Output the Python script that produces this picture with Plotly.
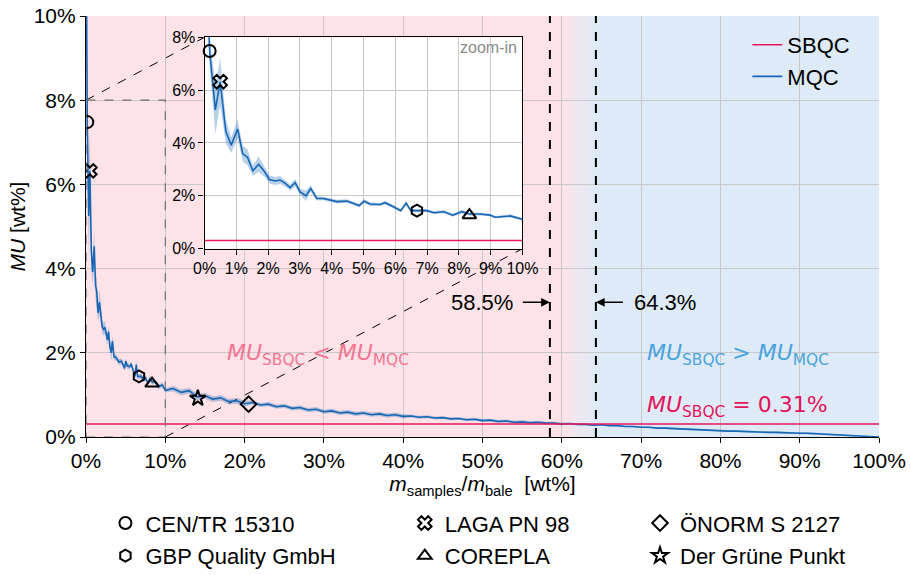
import plotly.graph_objects as go

# ---------------- data ----------------
X_ZOOM = [0.05, 0.16, 0.34, 0.49, 0.67, 0.84, 1.04, 1.20, 1.35, 1.52, 1.70, 1.89, 2.04, 2.22, 2.38,
          2.54, 2.69, 2.85, 3.00, 3.19, 3.34, 3.53, 3.74, 3.95, 4.16, 4.48, 4.69, 4.86, 5.02, 5.20,
          5.52, 5.68, 5.94, 6.17, 6.34, 6.49, 6.68, 6.99, 7.22, 7.52, 7.81, 8.09, 8.33, 8.67, 8.98,
          9.14, 9.61, 10.0]
MU_ZOOM = [11.0, 7.48, 5.25, 6.32, 4.43, 3.92, 4.53, 3.60, 3.46, 2.95, 3.20, 2.91, 2.62, 2.56, 2.60,
           2.47, 2.31, 2.50, 2.16, 2.00, 2.28, 1.90, 1.90, 1.84, 1.78, 1.80, 1.72, 1.63, 1.80, 1.69,
           1.67, 1.74, 1.59, 1.44, 1.72, 1.44, 1.44, 1.44, 1.36, 1.40, 1.27, 1.40, 1.31, 1.31, 1.27,
           1.19, 1.24, 1.11]
BAND_ZOOM = [0.6, 0.6, 0.9, 0.9, 0.45, 0.3, 0.35, 0.3, 0.3, 0.2, 0.3, 0.2, 0.15, 0.15, 0.15,
             0.12, 0.12, 0.15, 0.12, 0.2, 0.12, 0.08, 0.07, 0.07, 0.07, 0.07, 0.07, 0.07, 0.08, 0.07,
             0.06, 0.06, 0.06, 0.06, 0.08, 0.06, 0.06, 0.06, 0.06, 0.06, 0.06, 0.06, 0.06, 0.05, 0.05,
             0.05, 0.06, 0.05]

X_TAIL = [11, 12, 13, 14, 15, 16, 17, 18, 19, 20, 21, 22, 23, 24, 25, 26, 27, 28, 29, 30,
          31, 32, 33, 34, 35, 36, 37, 38, 39, 40, 41, 42, 43, 44, 45, 46, 47, 48, 49, 50,
          51, 52, 53, 54, 55, 56, 57, 58, 59, 60, 61, 62, 63, 64, 65, 66, 67, 68, 69, 70,
          71, 72, 73, 74, 75, 76, 77, 78, 79, 80, 81, 82, 83, 84, 85, 86, 87, 88, 89, 90,
          91, 92, 93, 94, 95, 96, 97, 98, 99, 100]
MU_TAIL = [1.15, 1.06, 1.10, 0.95, 0.98, 0.90, 0.93, 0.84, 0.86, 0.79,
           0.82, 0.76, 0.78, 0.72, 0.74, 0.68, 0.70, 0.64, 0.66, 0.60,
           0.62, 0.57, 0.59, 0.55, 0.57, 0.53, 0.55, 0.51, 0.53, 0.49,
           0.50, 0.47, 0.48, 0.45, 0.46, 0.43, 0.44, 0.41, 0.42, 0.39,
           0.40, 0.37, 0.38, 0.35, 0.36, 0.34, 0.35, 0.33, 0.33, 0.31,
           0.32, 0.30, 0.30, 0.28, 0.29, 0.27, 0.27, 0.25, 0.25, 0.23,
           0.23, 0.21, 0.21, 0.20, 0.19, 0.18, 0.18, 0.16, 0.16, 0.15,
           0.14, 0.14, 0.13, 0.12, 0.12, 0.11, 0.11, 0.10, 0.10, 0.09,
           0.09, 0.08, 0.07, 0.06, 0.05, 0.04, 0.03, 0.02, 0.01, 0.00]
BAND_TAIL = [0.07, 0.07, 0.07, 0.07, 0.07, 0.07, 0.07, 0.07, 0.07, 0.07,
             0.05, 0.05, 0.05, 0.05, 0.05, 0.05, 0.05, 0.05, 0.05, 0.05,
             0.05, 0.05, 0.05, 0.05, 0.05, 0.05, 0.05, 0.05, 0.05, 0.05,
             0.035, 0.035, 0.035, 0.035, 0.035, 0.035, 0.035, 0.035, 0.035, 0.035,
             0.035, 0.035, 0.035, 0.035, 0.035, 0.035, 0.035, 0.035, 0.035, 0.035,
             0.02, 0.02, 0.02, 0.02, 0.02, 0.02, 0.02, 0.02, 0.02, 0.02,
             0.02, 0.02, 0.02, 0.02, 0.02, 0.02, 0.02, 0.02, 0.02, 0.02,
             0.02, 0.02, 0.02, 0.02, 0.02, 0.02, 0.02, 0.02, 0.02, 0.02,
             0.02, 0.02, 0.02, 0.02, 0.02, 0.02, 0.02, 0.02, 0.02, 0.01]

SBQC_VALUE = 0.31
CROSS_LOW = 58.5
CROSS_HIGH = 64.3

MARKER_NAMES = ["CEN/TR 15310", "LAGA PN 98", "ÖNORM S 2127",
                "GBP Quality GmbH", "COREPLA", "Der Grüne Punkt"]
MARKER_X = [0.16, 0.49, 20.5, 6.68, 8.33, 14.1]
MARKER_Y = [7.48, 6.32, 0.78, 1.44, 1.27, 0.92]
MARKER_SYMBOLS = ["circle-open", "x-open", "diamond-open",
                  "hexagon-open", "triangle-up-open", "star-open"]
MARKER_LEGEND = ["legend3", "legend4", "legend5", "legend3", "legend4", "legend5"]

X_TICKS = [0, 10, 20, 30, 40, 50, 60, 70, 80, 90, 100]
Y_TICKS = [0, 2, 4, 6, 8, 10]
X2_TICKS = [0, 1, 2, 3, 4, 5, 6, 7, 8, 9, 10]
Y2_TICKS = [0, 2, 4, 6, 8]
ZOOM_X_RANGE = [0, 10]
ZOOM_Y_RANGE = [0, 8]

# ---------------- styling ----------------
FONT = "Liberation Sans, Arial, sans-serif"
MATH = "DejaVu Sans, sans-serif"
MQC_COLOR = "#1767b5"
BAND_COLOR = "rgba(23,103,181,0.30)"
SBQC_COLOR = "#e8175d"
PINK = (253, 227, 232)
BLUE = (222, 235, 247)
GRID = "#c8c8c8"
INSET_X = [0.1495, 0.5504]
INSET_Y = [0.4473, 0.9494]


def pct(vals):
    return ["%g%%" % v for v in vals]


X_ALL = X_ZOOM + X_TAIL
MU_ALL = MU_ZOOM + MU_TAIL
BAND_ALL = BAND_ZOOM + BAND_TAIL
upper = [m + b for m, b in zip(MU_ALL, BAND_ALL)]
lower = [max(m - b, 0) for m, b in zip(MU_ALL, BAND_ALL)]
up_z = [m + b for m, b in zip(MU_ZOOM, BAND_ZOOM)]
lo_z = [max(m - b, 0) for m, b in zip(MU_ZOOM, BAND_ZOOM)]

fig = go.Figure()

# main panel
fig.add_trace(go.Scatter(x=X_ALL + X_ALL[::-1], y=upper + lower[::-1], fill="toself",
                         fillcolor=BAND_COLOR, line=dict(width=0), showlegend=False,
                         hoverinfo="skip", xaxis="x", yaxis="y"))
fig.add_trace(go.Scatter(x=X_ALL, y=MU_ALL, mode="lines", name="MQC",
                         line=dict(color=MQC_COLOR, width=1.6), legend="legend2",
                         legendrank=2, xaxis="x", yaxis="y"))
fig.add_trace(go.Scatter(x=[0, 100], y=[SBQC_VALUE, SBQC_VALUE], mode="lines", name="SBQC",
                         line=dict(color=SBQC_COLOR, width=1.6), legend="legend2",
                         legendrank=1, xaxis="x", yaxis="y"))
for i, name in enumerate(MARKER_NAMES):
    fig.add_trace(go.Scatter(x=[MARKER_X[i]], y=[MARKER_Y[i]], mode="markers", name=name,
                             legendgroup="g%d" % i,
                             marker=dict(symbol=MARKER_SYMBOLS[i], size=12, color="black",
                                         line=dict(width=2, color="black")),
                             legend=MARKER_LEGEND[i], xaxis="x", yaxis="y"))

# inset panel
fig.add_trace(go.Scatter(x=X_ZOOM + X_ZOOM[::-1], y=up_z + lo_z[::-1], fill="toself",
                         fillcolor=BAND_COLOR, line=dict(width=0), showlegend=False,
                         hoverinfo="skip", xaxis="x2", yaxis="y2"))
fig.add_trace(go.Scatter(x=X_ZOOM, y=MU_ZOOM, mode="lines", showlegend=False,
                         line=dict(color=MQC_COLOR, width=1.6), xaxis="x2", yaxis="y2"))
fig.add_trace(go.Scatter(x=ZOOM_X_RANGE, y=[SBQC_VALUE, SBQC_VALUE], mode="lines",
                         showlegend=False, line=dict(color=SBQC_COLOR, width=1.6),
                         xaxis="x2", yaxis="y2"))
for i, name in enumerate(MARKER_NAMES):
    if MARKER_X[i] <= ZOOM_X_RANGE[1]:
        fig.add_trace(go.Scatter(x=[MARKER_X[i]], y=[MARKER_Y[i]], mode="markers",
                                 showlegend=False, cliponaxis=False,
                                 marker=dict(symbol=MARKER_SYMBOLS[i], size=12, color="black",
                                             line=dict(width=2, color="black")),
                                 xaxis="x2", yaxis="y2"))

# ---------------- shapes ----------------
shapes = []
shapes.append(dict(type="rect", xref="x", yref="paper", x0=CROSS_HIGH, x1=100, y0=0, y1=1,
                   fillcolor="rgb(%d,%d,%d)" % BLUE, line=dict(width=0), layer="below"))
n = 12
g0 = 60.0
for k in range(n):
    t = (k + 0.5) / n
    c = tuple(int(round(PINK[j] + (BLUE[j] - PINK[j]) * t)) for j in range(3))
    shapes.append(dict(type="rect", xref="x", yref="paper",
                       x0=g0 + (CROSS_HIGH - g0) * k / n,
                       x1=g0 + (CROSS_HIGH - g0) * (k + 1) / n + 0.02,
                       y0=0, y1=1, fillcolor="rgb(%d,%d,%d)" % c, line=dict(width=0), layer="below"))
shapes.append(dict(type="line", xref="paper", yref="paper",
                   x0=ZOOM_X_RANGE[0] / 100, y0=ZOOM_Y_RANGE[1] / 10, x1=INSET_X[0], y1=INSET_Y[1],
                   line=dict(color="black", width=1, dash="dash"), layer="below"))
shapes.append(dict(type="line", xref="paper", yref="paper",
                   x0=ZOOM_X_RANGE[1] / 100, y0=ZOOM_Y_RANGE[0] / 10, x1=INSET_X[1], y1=INSET_Y[0],
                   line=dict(color="black", width=1, dash="dash"), layer="below"))
shapes.append(dict(type="rect", xref="x", yref="y", x0=ZOOM_X_RANGE[0], x1=ZOOM_X_RANGE[1],
                   y0=ZOOM_Y_RANGE[0], y1=ZOOM_Y_RANGE[1],
                   line=dict(color="#6e6e6e", width=1.2, dash="dash"), layer="above"))
shapes.append(dict(type="rect", xref="x2", yref="y2", x0=ZOOM_X_RANGE[0], x1=ZOOM_X_RANGE[1],
                   y0=ZOOM_Y_RANGE[0], y1=ZOOM_Y_RANGE[1], fillcolor="white",
                   line=dict(width=0), layer="below"))
for xv in (CROSS_LOW, CROSS_HIGH):
    shapes.append(dict(type="line", xref="x", yref="paper", x0=xv, x1=xv, y0=0, y1=1,
                       line=dict(color="black", width=2, dash="dash"), layer="above"))

# ---------------- annotations ----------------
ann = []
ARROW_Y = 3.2
ann.append(dict(x=CROSS_LOW, y=ARROW_Y, ax=54.9, ay=ARROW_Y, axref="x", ayref="y", xref="x", yref="y",
                text="", showarrow=True, arrowhead=2, arrowsize=1.1, arrowwidth=1.6,
                arrowcolor="black", standoff=0))
ann.append(dict(x=54.1, y=ARROW_Y, xref="x", yref="y", text="%.1f%%" % CROSS_LOW, showarrow=False,
                xanchor="right", font=dict(size=22, color="black", family=FONT)))
ann.append(dict(x=CROSS_HIGH, y=ARROW_Y, ax=67.9, ay=ARROW_Y, axref="x", ayref="y", xref="x", yref="y",
                text="", showarrow=True, arrowhead=2, arrowsize=1.1, arrowwidth=1.6,
                arrowcolor="black", standoff=0))
ann.append(dict(x=68.8, y=ARROW_Y, xref="x", yref="y", text="%.1f%%" % CROSS_HIGH, showarrow=False,
                xanchor="left", font=dict(size=22, color="black", family=FONT)))
ann.append(dict(x=29.3, y=1.95, xref="x", yref="y",
                text="<i>MU</i><sub>SBQC</sub> &lt; <i>MU</i><sub>MQC</sub>", showarrow=False,
                font=dict(size=22, color="#f17592", family=MATH)))
ann.append(dict(x=82.2, y=1.95, xref="x", yref="y",
                text="<i>MU</i><sub>SBQC</sub> &gt; <i>MU</i><sub>MQC</sub>", showarrow=False,
                font=dict(size=22, color="#4aa3dc", family=MATH)))
ann.append(dict(x=82.2, y=0.72, xref="x", yref="y",
                text="<i>MU</i><sub>SBQC</sub> = %.2f%%" % SBQC_VALUE, showarrow=False,
                font=dict(size=22, color="#e2145a", family=MATH)))
ann.append(dict(x=9.9, y=7.6, xref="x2", yref="y2", text="zoom-in", showarrow=False,
                xanchor="right", font=dict(size=16, color="#8a8a8a", family=FONT)))

axis_common = dict(showgrid=True, gridcolor=GRID, gridwidth=1, zeroline=False, showline=True,
                   linecolor="black", linewidth=1.2, ticks="outside", ticklen=5, tickcolor="black")

legend_common = dict(xanchor="left", yanchor="top", bgcolor="rgba(0,0,0,0)",
                     font=dict(size=22), borderwidth=0)

fig.update_layout(
    width=911, height=575,
    margin=dict(l=86, r=32, t=16, b=138, autoexpand=False),
    paper_bgcolor="white",
    plot_bgcolor="rgb(%d,%d,%d)" % PINK,
    font=dict(family=FONT, size=21, color="black"),
    shapes=shapes, annotations=ann,
    xaxis=dict(range=[0, 100], tickmode="array", tickvals=X_TICKS, ticktext=pct(X_TICKS),
               domain=[0, 1], anchor="y", tickfont=dict(size=21),
               title=dict(text="<i>m</i><sub>samples</sub>/<i>m</i><sub>bale</sub>  [wt%]",
                          font=dict(size=21), standoff=4),
               **axis_common),
    yaxis=dict(range=[0, 10], tickmode="array", tickvals=Y_TICKS, ticktext=pct(Y_TICKS),
               domain=[0, 1], anchor="x", tickfont=dict(size=21),
               title=dict(text="<i>MU</i> [wt%]", font=dict(size=21), standoff=2),
               **axis_common),
    xaxis2=dict(range=ZOOM_X_RANGE, tickmode="array", tickvals=X2_TICKS, ticktext=pct(X2_TICKS),
                domain=INSET_X, anchor="y2", tickfont=dict(size=16), mirror=True, **axis_common),
    yaxis2=dict(range=ZOOM_Y_RANGE, tickmode="array", tickvals=Y2_TICKS, ticktext=pct(Y2_TICKS),
                domain=INSET_Y, anchor="x2", tickfont=dict(size=16), mirror=True, **axis_common),
    legend2=dict(x=0.834, y=0.981, **legend_common),
    legend3=dict(x=0.0245, y=-0.155, traceorder="grouped", tracegroupgap=1, **legend_common),
    legend4=dict(x=0.402, y=-0.155, traceorder="grouped", tracegroupgap=1, **legend_common),
    legend5=dict(x=0.6986, y=-0.155, traceorder="grouped", tracegroupgap=1, **legend_common),
    showlegend=True,
)

fig.write_html("out.html", config={"displayModeBar": False},
               post_script="document.body.style.margin='0px';")
